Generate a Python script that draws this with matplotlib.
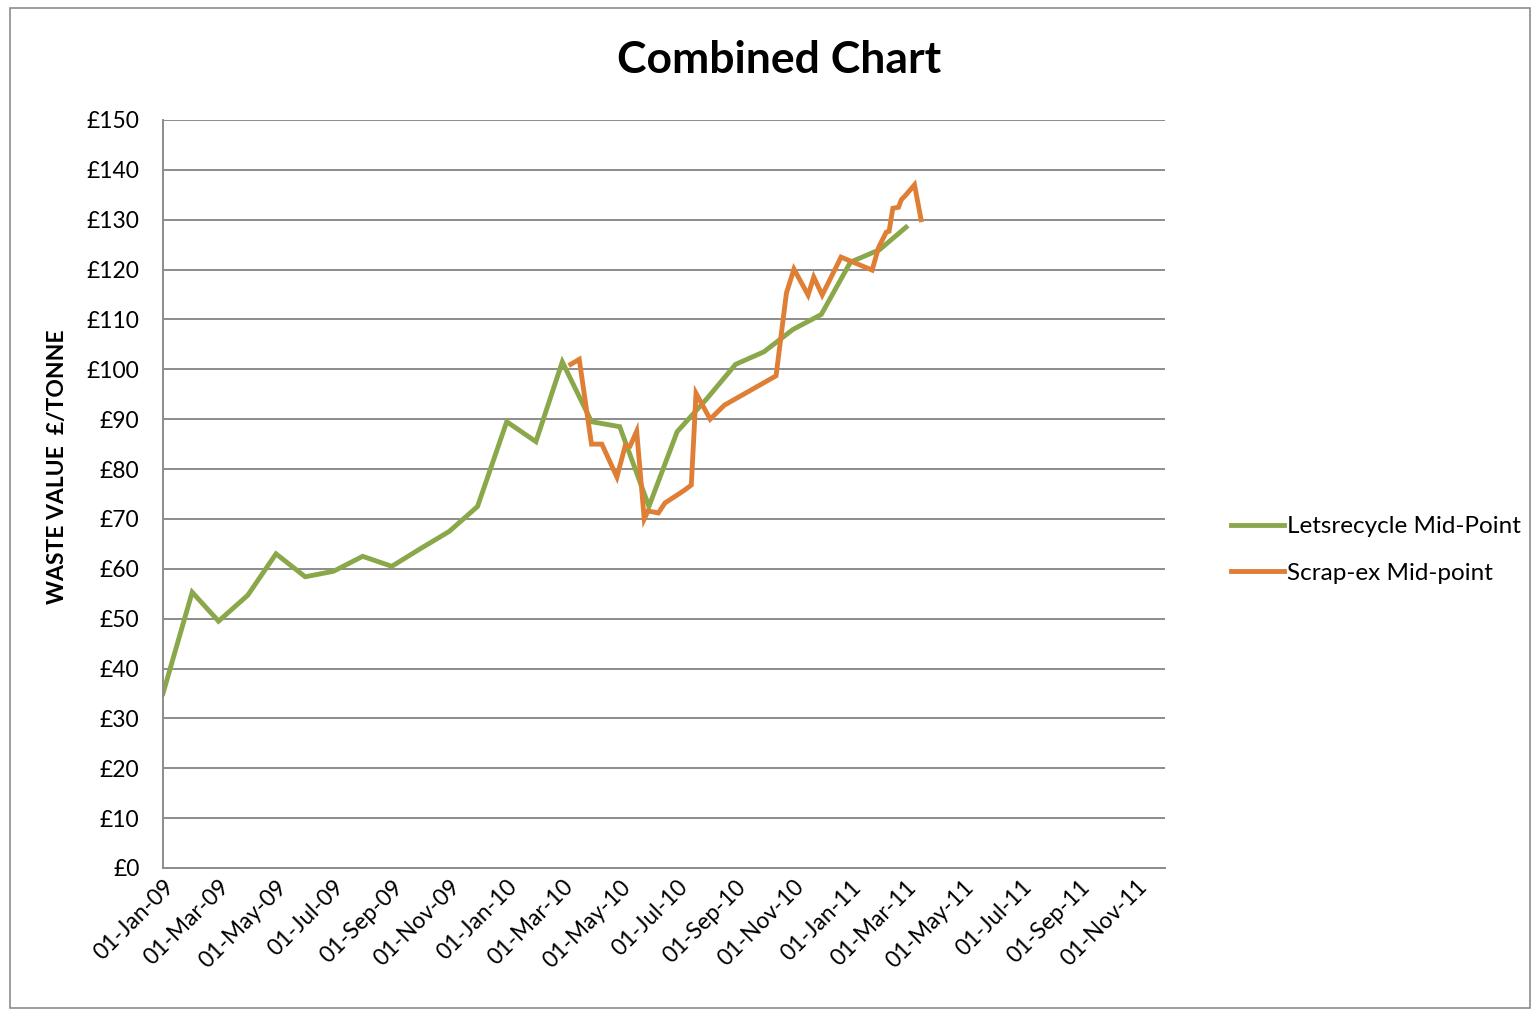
# Combined chart of waste value (GBP per tonne), Letsrecycle vs Scrap-ex mid-points

import matplotlib
matplotlib.use('Agg')
import matplotlib.pyplot as plt
import matplotlib.dates as mdates
from matplotlib.ticker import FuncFormatter
from matplotlib.patches import Rectangle
import numpy
import datetime

plt.rcParams['font.family'] = ['Lato', 'DejaVu Sans']

letsrecycle_dates = ['2009-01-01', '2009-02-01', '2009-03-01', '2009-04-01', '2009-05-01',
                     '2009-06-01', '2009-07-01', '2009-08-01', '2009-09-01', '2009-10-01',
                     '2009-11-01', '2009-12-01', '2010-01-01', '2010-02-01', '2010-03-01',
                     '2010-04-01', '2010-05-01', '2010-06-01', '2010-07-01', '2010-08-01',
                     '2010-09-01', '2010-10-01', '2010-11-01', '2010-12-01', '2011-01-01',
                     '2011-02-01', '2011-03-01']
letsrecycle_values = [35, 55.3, 49.5, 54.7, 63, 58.4, 59.5, 62.5, 60.5, 64,
                      67.5, 72.5, 89.5, 85.5, 101.5, 89.5, 88.5, 72.5, 87.5, 94,
                      101, 103.5, 108, 111, 121.5, 124, 128.5]

scrapex_dates = ['2010-03-10', '2010-03-19', '2010-04-01', '2010-04-12', '2010-04-28',
                 '2010-05-07', '2010-05-12', '2010-05-19', '2010-05-27', '2010-05-31',
                 '2010-06-11', '2010-06-18', '2010-07-01', '2010-07-09', '2010-07-16',
                 '2010-07-21', '2010-08-05', '2010-08-20', '2010-10-14', '2010-10-25',
                 '2010-11-02', '2010-11-17', '2010-11-23', '2010-12-02', '2010-12-22',
                 '2011-01-24', '2011-01-31', '2011-02-08', '2011-02-11', '2011-02-15',
                 '2011-02-21', '2011-02-24', '2011-03-01', '2011-03-10', '2011-03-17']
scrapex_values = [101, 102, 85, 85, 78.4, 84.8, 84.6, 87.6, 70, 71.6,
                  71.2, 73.2, 74.8, 75.8, 76.8, 95.2, 90, 92.8, 98.7, 115.3,
                  120.1, 114.9, 118.5, 114.9, 122.5, 119.9, 124.5, 127.5, 127.7, 132.3,
                  132.5, 134, 135, 137, 130]

green = '#8AA84A'
orange = '#DF7F36'
grid_grey = '#8C8C8C'


def to_dates(strings):
    return [datetime.datetime.strptime(s, '%Y-%m-%d') for s in strings]


fig = plt.figure(figsize=(15.38, 10.10), dpi=100)
ax = fig.add_axes([163 / 1538, 1 - 868 / 1010, (1165 - 163) / 1538, (868 - 120) / 1010])

# outer chart frame
fig.patches.append(Rectangle((10 / 1538, 1 - 1008 / 1010), 1520 / 1538, 1000 / 1010,
                             transform=fig.transFigure, fill=False,
                             edgecolor='#8C8C8C', linewidth=1.2))

ax.plot(to_dates(letsrecycle_dates), letsrecycle_values, color=green, linewidth=3.5,
        solid_joinstyle='miter', label='Letsrecycle Mid-Point')
ax.plot(to_dates(scrapex_dates), scrapex_values, color=orange, linewidth=3.5,
        solid_joinstyle='miter', label='Scrap-ex Mid-point')

ax.set_xlim(datetime.datetime(2009, 1, 1), datetime.datetime(2011, 12, 1))
ax.set_ylim(0, 150)
ax.set_yticks(numpy.arange(0, 151, 10))
ax.yaxis.set_major_formatter(FuncFormatter(lambda v, p: '£%d' % v))
ax.xaxis.set_major_locator(mdates.MonthLocator(bymonth=[1, 3, 5, 7, 9, 11]))
ax.xaxis.set_major_formatter(mdates.DateFormatter('%d-%b-%y'))

ax.grid(axis='y', color=grid_grey, linewidth=1.4)
ax.set_axisbelow(True)
for side in ['top', 'right']:
    ax.spines[side].set_visible(False)
for side in ['left', 'bottom']:
    ax.spines[side].set_color(grid_grey)
    ax.spines[side].set_linewidth(1.4)

ax.tick_params(axis='y', length=0, labelsize=16.5, pad=17)
ax.tick_params(axis='x', length=0, labelsize=16.5, pad=6)
for label in ax.get_xticklabels():
    label.set_rotation(45)
    label.set_ha('right')
    label.set_rotation_mode('anchor')

ax.set_ylabel('WASTE VALUE  £/TONNE', fontsize=16.5, fontweight='bold')
ax.yaxis.set_label_coords(-0.095, 0.536)
fig.text(779 / 1538, 1 - 60 / 1010, 'Combined Chart', ha='center', va='center',
         fontsize=32, fontweight='bold')

ax.legend(loc='center left', bbox_to_anchor=(1.044, 0.425), frameon=False,
          fontsize=17.5, handlelength=2.2, handletextpad=0.1, labelspacing=1.05)

plt.savefig('out.png', dpi=100)
